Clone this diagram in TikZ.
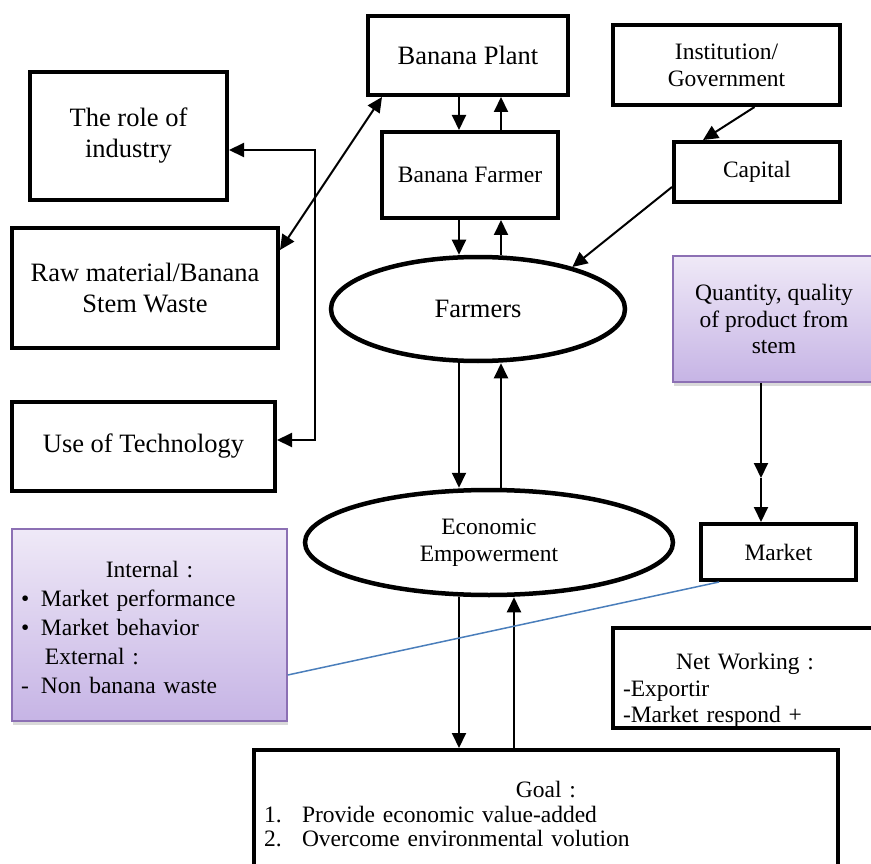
\documentclass[tikz,border=0pt]{standalone}
\usepackage{fontspec}
\setmainfont{Liberation Serif}
\usetikzlibrary{arrows.meta,shapes.geometric,shadows}
\definecolor{lilactop}{RGB}{239,233,247}
\definecolor{lilacbot}{RGB}{198,180,229}
\definecolor{lilacline}{RGB}{140,112,180}
\definecolor{linkblue}{RGB}{74,126,187}
\newcommand{\figbig}{\fontsize{26.5}{31}\selectfont}
\newcommand{\figsmall}{\fontsize{23.5}{27}\selectfont}

\begin{document}
\begin{tikzpicture}[x=1pt,y=-1pt,
    box/.style={draw,rectangle,line width=4pt,inner sep=0pt,align=center,font=\figsmall},
    oval/.style={draw,ellipse,line width=4.5pt,inner sep=0pt,align=center},
    lilacbox/.style={draw=lilacline,rectangle,line width=1.5pt,inner sep=0pt,
        top color=lilactop,bottom color=lilacbot,
        drop shadow={shadow xshift=1pt,shadow yshift=-4pt,opacity=0.3},font=\figsmall},
    arr/.style={line width=2pt,-{Triangle[length=15pt,width=14pt]}},
    arrtwo/.style={line width=2pt,{Triangle[length=15pt,width=14pt]}-{Triangle[length=15pt,width=14pt]}},
    link/.style={draw=linkblue,line width=1.5pt}]
    \useasboundingbox
        (0,0) rectangle (871,864);
    % left column
    \node[box,font=\figbig,minimum width=197pt,minimum height=128pt]
        (industry) at (128.5,136) {The role of\\industry};
    \node[box,font=\figbig,minimum width=266pt,minimum height=120pt]
        (raw) at (145,288) {Raw material/Banana\\Stem Waste};
    \node[box,font=\figbig,minimum width=263pt,minimum height=89pt]
        (tech) at (143.5,446) {Use of Technology};
    \node[lilacbox,minimum width=275pt,minimum height=192pt,text width=257pt,align=left,
        font=\fontsize{23.5}{29}\selectfont]
        (internal) at (149.5,625) {\rule{0pt}{22pt}\makebox[\linewidth]{Internal :}\\
            \makebox[20pt][l]{\textbullet}Market performance\\
            \makebox[20pt][l]{\textbullet}Market behavior\\
            \hspace*{24pt}External :\\
            \makebox[20pt][l]{-}Non banana waste};
    % middle column
    \node[box,font=\figbig,minimum width=200pt,minimum height=79pt]
        (plant) at (468,55.5) {Banana Plant};
    \node[box,minimum width=176pt,minimum height=86pt]
        (bfarmer) at (470,175) {Banana Farmer};
    \node[oval,font=\figbig,minimum width=294pt,minimum height=104pt]
        (farmers) at (478,309) {Farmers};
    \node[oval,font=\figsmall,minimum width=368pt,minimum height=105pt]
        (econ) at (489,542.5) {Economic\\Empowerment};
    \node[box,minimum width=584pt,minimum height=116pt,text width=564pt,align=left,
        font=\fontsize{23.5}{24.5}\selectfont]
        (goal) at (546,808) {\rule{0pt}{29pt}\makebox[\linewidth]{Goal :}\\
            \makebox[38pt][l]{1.}Provide economic value-added\\
            \makebox[38pt][l]{2.}Overcome environmental volution};
    % right column
    \node[box,minimum width=227pt,minimum height=80pt]
        (inst) at (726.5,65) {Institution/\\Government};
    \node[box,minimum width=166pt,minimum height=60pt]
        (capital) at (757,172) {Capital};
    \node[lilacbox,minimum width=202pt,minimum height=126pt,align=center,
        font=\fontsize{23.5}{26.5}\selectfont]
        (quantity) at (774,319) {Quantity, quality\\of product from\\stem};
    \node[box,minimum width=155pt,minimum height=56pt]
        (market) at (778.5,552) {Market};
    \node[box,minimum width=280pt,minimum height=100pt,text width=260pt,align=left,
        font=\fontsize{23.5}{26.5}\selectfont]
        (network) at (753,678) {\rule{0pt}{41pt}\makebox[244pt]{Net Working :}\\
            -Exportir\\
            -Market respond +};
    % connectors
    \coordinate (downx) at (459,0);
    \foreach \a/\b/\u in {plant/bfarmer/501,bfarmer/farmers/501,farmers/econ/501,econ/goal/514} {
        \coordinate (upx) at (\u,0);
        \draw[arr] (\a.south -| downx) -- (\b.north -| downx);
        \draw[arr] (\b.north -| upx) -- (\a.south -| upx);
    }
    \draw[arrtwo]
        ([xshift=16pt]plant.south west) -- ([yshift=38pt]raw.east);
    \draw[arrtwo]
        ([yshift=-14pt]industry.east) -- ++(86,0) |- ([yshift=6pt]tech.east);
    \draw[arr]
        ([xshift=28pt]inst.south) -- ([xshift=-54pt]capital.north);
    \draw[arr]
        ([yshift=-15pt]capital.west) -- (farmers.24);
    \coordinate (qmid) at (761,478);
    \draw[arr] (quantity.south -| qmid) -- (qmid);
    \draw[arr] (qmid) -- (market.north -| qmid);
    \draw[link]
        ([xshift=20pt]market.south west) -- ([yshift=-50pt]internal.east);
\end{tikzpicture}
\end{document}
